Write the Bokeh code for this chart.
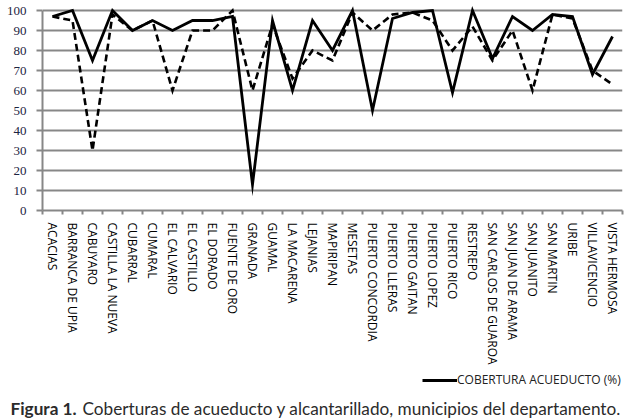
from bokeh.plotting import figure
from bokeh.layouts import column
from bokeh.models import Range1d, FixedTicker, Label, Legend, LegendItem
from bokeh.embed import file_html
from bokeh.resources import INLINE
import numpy as np

municipios = ["ACACIAS", "BARRANCA DE UPIA", "CABUYARO", "CASTILLA LA NUEVA", "CUBARRAL",
              "CUMARAL", "EL CALVARIO", "EL CASTILLO", "EL DORADO", "FUENTE DE ORO",
              "GRANADA", "GUAMAL", "LA MACARENA", "LEJANIAS", "MAPIRIPAN", "MESETAS",
              "PUERTO CONCORDIA", "PUERTO LLERAS", "PUERTO GAITAN", "PUERTO LOPEZ",
              "PUERTO RICO", "RESTREPO", "SAN CARLOS DE GUAROA", "SAN JUAN DE ARAMA",
              "SAN JUANITO", "SAN MARTIN", "URIBE", "VILLAVICENCIO", "VISTA HERMOSA"]
acueducto = [97, 100, 75, 100, 90, 95, 90, 95, 95, 97, 13, 95, 60, 95, 80, 100, 50,
             96, 99, 100, 59, 100, 76, 97, 90, 98, 97, 68, 87]
alcantarillado = [97, 95, 30, 98, 90, 95, 60, 90, 90, 100, 60, 93, 66, 80, 75, 99, 90,
                  98, 99, 95, 80, 92, 75, 90, 60, 98, 96, 70, 63]
y_ticks = [0, 10, 20, 30, 40, 50, 60, 70, 80, 90, 100]
legend_label = "COBERTURA ACUEDUCTO (%)"
caption_bold = "Figura 1."
caption_text = "Coberturas de acueducto y alcantarillado, municipios del departamento."

n = len(municipios)
xc = np.arange(n) + 0.5

GRID = "#878787"

p = figure(width=629, height=370, output_backend="svg", toolbar_location=None,
           x_range=Range1d(0, n), y_range=Range1d(0, 101),
           min_border_left=42, min_border_right=7, min_border_top=8, min_border_bottom=160)
p.frame_align = False
p.outline_line_color = None
p.background_fill_color = None
p.border_fill_color = None
p.xgrid.visible = False
p.ygrid.visible = False

# horizontal grid lines drawn as thin bars at the y ticks
p.hbar(y=y_ticks[1:], left=0, right=n, height=1, fill_color=GRID, line_color=None)

# x axis
p.xaxis.ticker = FixedTicker(ticks=list(xc), minor_ticks=list(range(n + 1)))
p.xaxis.major_label_overrides = {float(x): m for x, m in zip(xc, municipios)}
p.xaxis.major_label_orientation = "vertical"
p.xaxis.major_tick_out = 0
p.xaxis.major_tick_in = 0
p.xaxis.minor_tick_out = 4
p.xaxis.minor_tick_in = 0
p.xaxis.minor_tick_line_color = GRID
p.xaxis.minor_tick_line_width = 2
p.xaxis.axis_line_color = GRID
p.xaxis.axis_line_width = 2
p.xaxis.major_label_text_font = "Open Sans"
p.xaxis.major_label_text_font_size = "12px"
p.xaxis.major_label_text_color = "black"
p.xaxis.major_label_standoff = 8
p.xaxis.bounds = (0, n)

# y axis
p.yaxis.ticker = FixedTicker(ticks=y_ticks)
p.yaxis.bounds = (0, 100)
p.yaxis.axis_line_color = GRID
p.yaxis.axis_line_width = 2
p.yaxis.major_tick_line_color = GRID
p.yaxis.major_tick_line_width = 2
p.yaxis.major_tick_out = 6
p.yaxis.major_tick_in = 0
p.yaxis.minor_tick_line_color = None
p.yaxis.major_label_text_font = "Liberation Serif"
p.yaxis.major_label_text_font_size = "13px"
p.yaxis.major_label_text_color = "#1c2340"
p.yaxis.major_label_standoff = 10

r_alc = p.line(xc, alcantarillado, line_color="black", line_width=2.6,
               line_dash="7 4", line_join="miter", level="annotation")
r_acu = p.line(xc, acueducto, line_color="black", line_width=2.8, line_join="miter",
               level="annotation")

# footer with legend and caption
f = figure(width=629, height=50, output_backend="svg", toolbar_location=None,
           x_range=Range1d(0, 629), y_range=Range1d(0, 50),
           min_border=0, x_axis_location=None, y_axis_location=None)
f.frame_align = False
f.outline_line_color = None
f.grid.visible = False
r_leg = f.line([np.nan], [np.nan], line_color="black", line_width=2.8)
legend = Legend(items=[LegendItem(label=legend_label, renderers=[r_leg])],
                location=(422, 32), orientation="horizontal",
                glyph_width=35, glyph_height=10, label_height=10, label_standoff=0,
                padding=0, margin=0, spacing=0,
                border_line_color=None, background_fill_alpha=0,
                label_text_font="Open Sans", label_text_font_size="12px",
                label_text_color="#222222", label_text_baseline="middle")
f.add_layout(legend, "center")

f.add_layout(Label(x=10, y=12, text=caption_bold, text_font="Lato",
                   text_font_style="bold", text_font_size="17.2px",
                   text_color="#2b2b2b", text_baseline="middle"))
f.add_layout(Label(x=82, y=12, text=caption_text, text_font="Lato",
                   text_font_size="17.2px", text_color="#2b2b2b",
                   text_baseline="middle"))

layout = column(p, f, spacing=0)
open("out.html", "w").write(file_html(layout, INLINE))
